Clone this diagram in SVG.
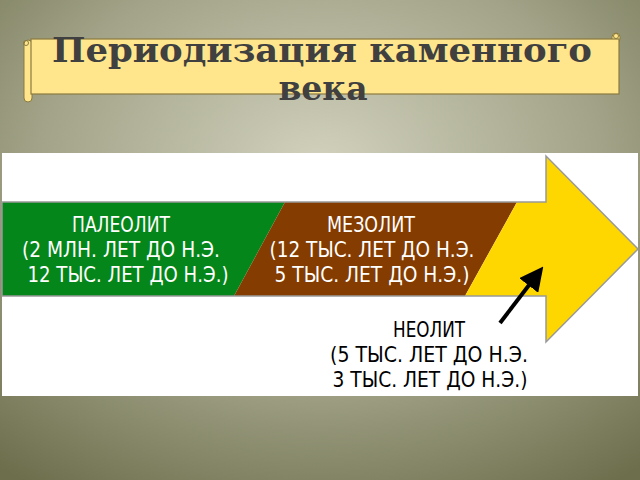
<svg xmlns="http://www.w3.org/2000/svg" width="640" height="480" viewBox="0 0 640 480">
<defs>
<radialGradient id="bg" cx="50%" cy="35%" r="80%">
<stop offset="0" stop-color="#d2d2be"/>
<stop offset="0.55" stop-color="#a2a388"/>
<stop offset="1" stop-color="#6c6e4c"/>
</radialGradient>
<marker id="ah" markerWidth="6" markerHeight="6" refX="3" refY="3" orient="auto" markerUnits="strokeWidth">
<path d="M0,0 L6,3 L0,6 Z" fill="#000"/>
</marker>
<style>
.title{font-family:"DejaVu Serif","Liberation Serif",serif;font-weight:bold;font-size:33px;fill:#404040;text-anchor:middle}
.lbl{font-family:"Liberation Sans Narrow","DejaVu Sans Condensed",sans-serif;font-size:22px;text-anchor:middle}
.w{fill:#ffffff}
.k{fill:#000000}
</style>
</defs>
<rect width="640" height="480" fill="url(#bg)"/>
<g id="banner">
<rect x="24" y="40" width="8" height="62" rx="4" fill="#ffe68c" stroke="#8a7a40" stroke-width="1"/>
<circle cx="26" cy="43" r="2.5" fill="none" stroke="#8a7a40" stroke-width="1"/>
<rect x="612" y="33" width="8" height="10" rx="4" fill="#ffe68c" stroke="#8a7a40" stroke-width="1"/>
<circle cx="616" cy="36" r="2.5" fill="none" stroke="#8a7a40" stroke-width="1"/>
<rect x="31" y="39" width="588" height="55" fill="#ffe68c" stroke="#8a7a40" stroke-width="1.2"/>
<text class="title" x="322" y="62" textLength="540" lengthAdjust="spacingAndGlyphs">Периодизация каменного</text>
<text class="title" x="323" y="100">века</text>
</g>
<rect x="2" y="153" width="636" height="243" fill="#ffffff"/>
<g id="arrow">
<polygon points="2,202 285,202 234,296 2,296" fill="#05861a"/>
<polygon points="285,202 517,202 465,296 234,296" fill="#843c00"/>
<polygon points="517,202 546,202 546,156 638,249 546,342 546,296 465,296" fill="#ffd700"/>
<path d="M2,202 H546 V156 L638,249 L546,342 V296 H2 Z" fill="none" stroke="#999999" stroke-width="1.5"/>
</g>
<g id="paleolit">
<text class="lbl w" x="121" y="232" textLength="98" lengthAdjust="spacingAndGlyphs">ПАЛЕОЛИТ</text>
<text class="lbl w" x="121" y="257" textLength="198" lengthAdjust="spacingAndGlyphs">(2 МЛН. ЛЕТ ДО Н.Э.</text>
<text class="lbl w" x="128" y="282" textLength="201" lengthAdjust="spacingAndGlyphs">12 ТЫС. ЛЕТ ДО Н.Э.)</text>
</g>
<g id="mezolit">
<text class="lbl w" x="371" y="232" textLength="88" lengthAdjust="spacingAndGlyphs">МЕЗОЛИТ</text>
<text class="lbl w" x="372" y="257" textLength="205" lengthAdjust="spacingAndGlyphs">(12 ТЫС. ЛЕТ ДО Н.Э.</text>
<text class="lbl w" x="372" y="282" textLength="195" lengthAdjust="spacingAndGlyphs">5 ТЫС. ЛЕТ ДО Н.Э.)</text>
</g>
<g id="neolit">
<text class="lbl k" x="429" y="337" textLength="72" lengthAdjust="spacingAndGlyphs">НЕОЛИТ</text>
<text class="lbl k" x="429" y="362" textLength="198" lengthAdjust="spacingAndGlyphs">(5 ТЫС. ЛЕТ ДО Н.Э.</text>
<text class="lbl k" x="430" y="387" textLength="195" lengthAdjust="spacingAndGlyphs">3 ТЫС. ЛЕТ ДО Н.Э.)</text>
</g>
<g id="connectors">
<line x1="500" y1="323" x2="536" y2="276" stroke="#000" stroke-width="4" marker-end="url(#ah)"/>
</g>
</svg>
